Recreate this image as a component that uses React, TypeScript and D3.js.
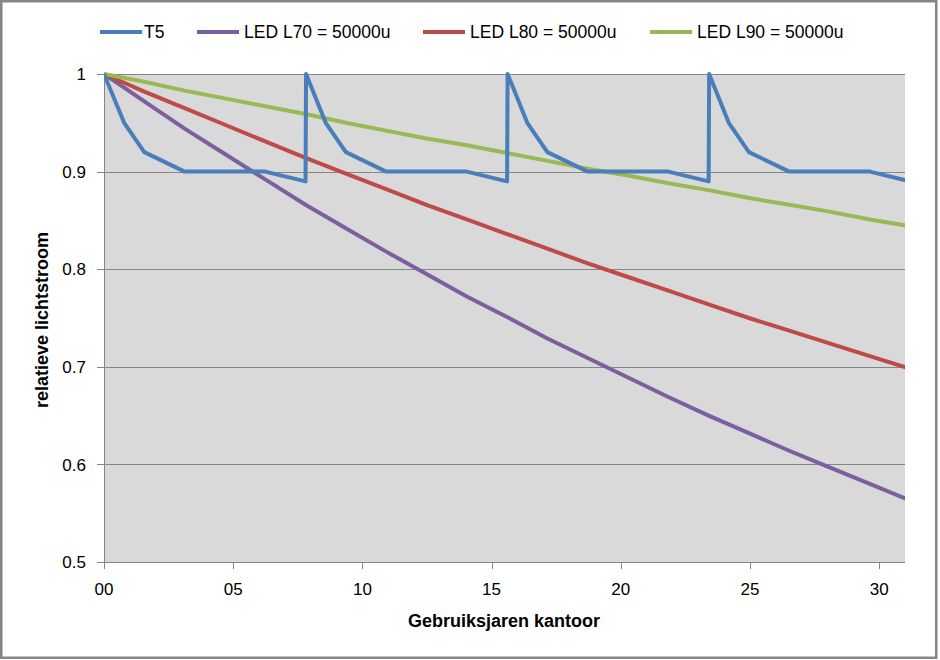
import React from "react";
import * as d3 from "d3";

const t5Years = [0, 0.78, 1.56, 3.12, 6.24, 7.8, 7.82, 8.58, 9.36, 10.92, 14.04, 15.6, 15.62, 16.38, 17.16, 18.72, 21.84, 23.4, 23.42, 24.18, 24.96, 26.52, 29.64, 31.2];
const t5Values = [1, 0.95, 0.92, 0.9, 0.9, 0.89, 1, 0.95, 0.92, 0.9, 0.9, 0.89, 1, 0.95, 0.92, 0.9, 0.9, 0.89, 1, 0.95, 0.92, 0.9, 0.9, 0.89];

const ledYears = [0, 0.78, 1.56, 3.12, 4.68, 6.24, 7.8, 9.36, 10.92, 12.48, 14.04, 15.6, 17.16, 18.72, 20.28, 21.84, 23.4, 24.96, 26.52, 28.08, 29.64, 31.2];
const ledL70 = [1, 0.986, 0.972, 0.944, 0.918, 0.892, 0.866, 0.842, 0.818, 0.795, 0.772, 0.751, 0.729, 0.709, 0.689, 0.669, 0.65, 0.632, 0.614, 0.597, 0.58, 0.563];
const ledL80 = [1, 0.991, 0.982, 0.965, 0.948, 0.931, 0.914, 0.898, 0.882, 0.866, 0.851, 0.836, 0.821, 0.806, 0.792, 0.778, 0.764, 0.75, 0.737, 0.724, 0.711, 0.698];
const ledL90 = [1, 0.996, 0.992, 0.983, 0.975, 0.967, 0.959, 0.95, 0.942, 0.934, 0.927, 0.919, 0.911, 0.903, 0.896, 0.888, 0.881, 0.873, 0.866, 0.859, 0.851, 0.844];

const seriesNames = ["T5", "LED L70 = 50000u", "LED L80 = 50000u", "LED L90 = 50000u"];
const seriesColors = ["#4a7ebb", "#7d5fa0", "#be4b48", "#98b954"];

const xTicks = [0, 5, 10, 15, 20, 25, 30];
const xTickLabels = ["00", "05", "10", "15", "20", "25", "30"];
const yTicks = [0.5, 0.6, 0.7, 0.8, 0.9, 1];
const yTickLabels = ["0.5", "0.6", "0.7", "0.8", "0.9", "1"];

const xTitle = "Gebruiksjaren kantoor";
const yTitle = "relatieve lichtstroom";

const W = 940;
const H = 660;
const M = { left: 104, right: 905, top: 74, bottom: 562 };
const FONT = "'Liberation Sans', Arial, sans-serif";

export default function App() {
  const x = d3.scaleLinear().domain([0, 31]).range([M.left, M.right]);
  const y = d3.scaleLinear().domain([0.5, 1]).range([M.bottom, M.top]);
  const line = d3
    .line<[number, number]>()
    .x((d) => x(d[0]))
    .y((d) => y(d[1]));

  const series: [number, number][][] = [
    t5Years.map((t, i) => [t, t5Values[i]]),
    ledYears.map((t, i) => [t, ledL70[i]]),
    ledYears.map((t, i) => [t, ledL80[i]]),
    ledYears.map((t, i) => [t, ledL90[i]]),
  ];

  const legendLineX = [100, 197, 423, 650];
  const legendTextX = [144, 244, 470, 697];
  const drawOrder = [1, 2, 3, 0];

  return (
    <svg
      width={W}
      height={H}
      style={{ position: "absolute", left: 0, top: 0, background: "#fff" }}
      fontFamily={FONT}
    >
      <defs>
        <clipPath id="plotClip">
          <rect x={M.left} y={M.top - 4} width={M.right - M.left} height={M.bottom - M.top + 4} />
        </clipPath>
      </defs>
      <rect x={0} y={0} width={W} height={H} fill="#fff" />
      <rect x={1.25} y={1.25} width={935} height={656.5} fill="none" stroke="#868686" strokeWidth={2.5} />
      <rect x={M.left} y={M.top} width={M.right - M.left} height={M.bottom - M.top} fill="#d9d9d9" />
      {yTicks.map((v) => (
        <line key={"g" + v} x1={M.left} x2={M.right} y1={Math.round(y(v)) + 0.5} y2={Math.round(y(v)) + 0.5} stroke="#868686" strokeWidth={1} />
      ))}
      <line x1={M.left + 0.5} x2={M.left + 0.5} y1={M.top} y2={M.bottom} stroke="#868686" strokeWidth={1} />
      {yTicks.map((v, i) => (
        <g key={"y" + v}>
          <line x1={M.left - 7} x2={M.left} y1={Math.round(y(v)) + 0.5} y2={Math.round(y(v)) + 0.5} stroke="#868686" />
          <text x={86} y={y(v)} dy="0.36em" textAnchor="end" fontSize={17} fill="#000">
            {yTickLabels[i]}
          </text>
        </g>
      ))}
      {xTicks.map((v, i) => (
        <g key={"x" + v}>
          <line x1={Math.round(x(v)) + 0.5} x2={Math.round(x(v)) + 0.5} y1={M.bottom} y2={M.bottom + 7} stroke="#868686" />
          <text x={x(v)} y={595} textAnchor="middle" fontSize={17} fill="#000">
            {xTickLabels[i]}
          </text>
        </g>
      ))}
      <g clipPath="url(#plotClip)">
        {drawOrder.map((i) => (
          <path
            key={"s" + i}
            d={line(series[i]) || ""}
            fill="none"
            stroke={seriesColors[i]}
            strokeWidth={4}
            strokeLinejoin="round"
            strokeLinecap="butt"
          />
        ))}
      </g>
      {seriesNames.map((n, i) => (
        <g key={"l" + i}>
          <line x1={legendLineX[i]} x2={legendLineX[i] + 42} y1={32} y2={32} stroke={seriesColors[i]} strokeWidth={4} />
          <text x={legendTextX[i]} y={38} fontSize={17.5} fill="#000">
            {n}
          </text>
        </g>
      ))}
      <text x={504} y={627} textAnchor="middle" fontSize={18} fontWeight="bold" fill="#000">
        {xTitle}
      </text>
      <text
        transform={`translate(48,320) rotate(-90)`}
        textAnchor="middle"
        fontSize={18}
        fontWeight="bold"
        fill="#000"
      >
        {yTitle}
      </text>
    </svg>
  );
}
